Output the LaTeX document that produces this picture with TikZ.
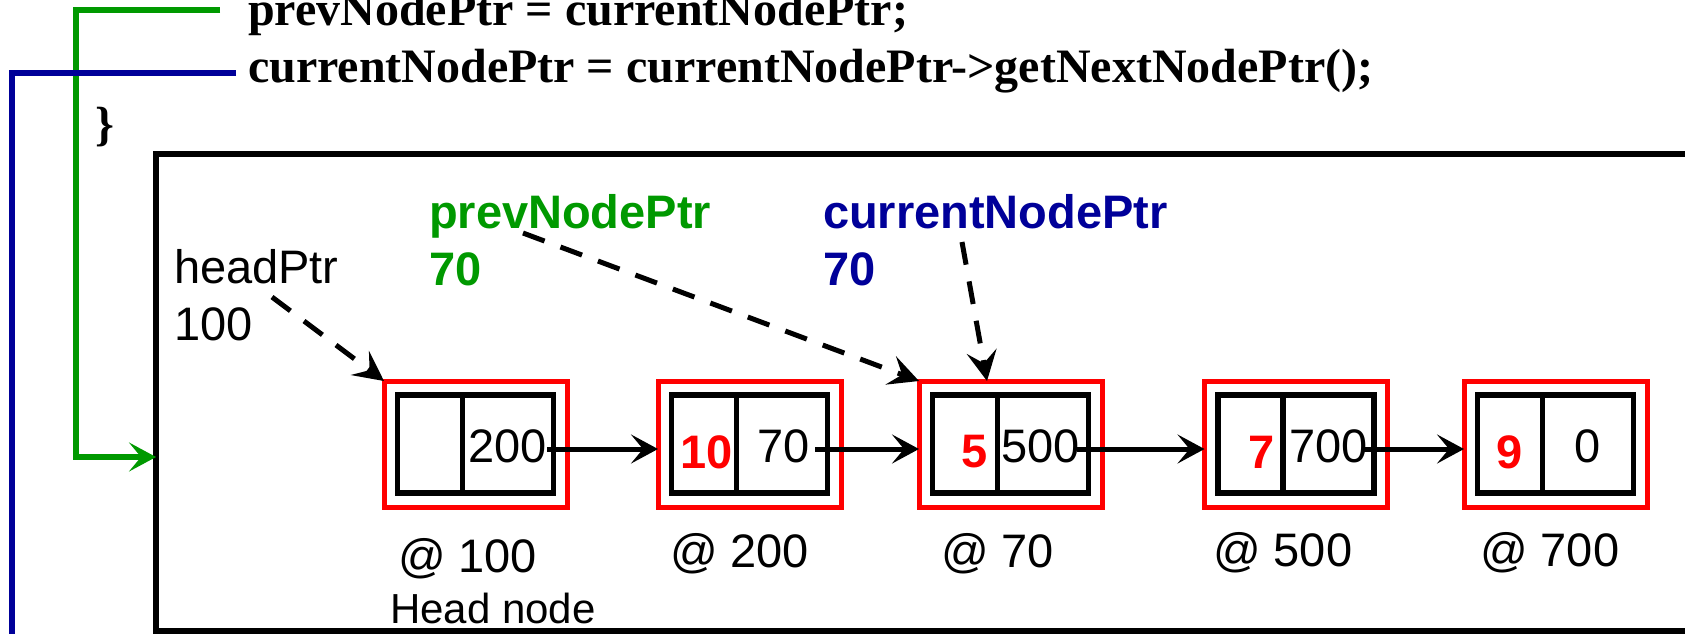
\documentclass[tikz,border=0pt]{standalone}
\usepackage{fontspec}
\setmainfont{Liberation Sans}
\newfontfamily\codefont{Liberation Serif}
\usetikzlibrary{arrows.meta,calc}
\definecolor{dgreen}{HTML}{009900}
\definecolor{dblue}{HTML}{000099}
\tikzset{
  lbl/.style={anchor=base west, inner sep=0pt, outer sep=0pt, font=\fontsize{47pt}{56pt}\selectfont},
  blbl/.style={anchor=base west, inner sep=0pt, outer sep=0pt, font=\fontsize{47pt}{56pt}\selectfont\bfseries},
  smalllbl/.style={anchor=base west, inner sep=0pt, outer sep=0pt, font=\fontsize{42pt}{50pt}\selectfont},
  codeline/.style={anchor=base west, inner sep=0pt, outer sep=0pt, font=\fontsize{48pt}{58pt}\selectfont\codefont\bfseries},
  outerbox/.style={draw=red, line width=5pt, minimum width=183pt, minimum height=126pt, inner sep=0pt, outer sep=0pt},
  lcell/.style={draw=black, line width=5.5pt, minimum width=65pt, minimum height=98pt, inner sep=0pt, outer sep=0pt},
  rcell/.style={draw=black, line width=5.5pt, minimum width=91pt, minimum height=98pt, inner sep=0pt, outer sep=0pt},
  frame/.style={draw=black, line width=6pt, minimum width=1544pt, minimum height=477pt, inner sep=0pt, outer sep=0pt},
  link/.style={line width=5pt, -{Stealth[length=27pt,width=29pt,inset=12pt]}},
  dptr/.style={line width=5pt, dash pattern=on 23pt off 17pt, -{Stealth[length=30pt,width=30pt,inset=12pt]}},
  gline/.style={draw=dgreen, line width=5.5pt, -{Stealth[length=27pt,width=29pt,inset=12pt]}},
  bline/.style={draw=dblue, line width=5.5pt},
}
\newcommand{\lnode}[2]{%
  \node[outerbox] (#1) at (#2,444) {};
  \node[lcell] (#1l) at ({#2-45.5},444) {};
  \node[rcell] (#1r) at ({#2+32.5},444) {};
}
\begin{document}
\begin{tikzpicture}[x=1pt,y=-1pt]
\useasboundingbox (0,0) rectangle (1685,633);

% code
\node[codeline] (l1) at (248,25) {prevNodePtr = currentNodePtr;};
\node[codeline] (l2) at (248,82) {currentNodePtr = currentNodePtr->getNextNodePtr();};
\node[codeline] (br) at (95,140) {\}};

% frame
\node[frame] (frame) at (928,392.5) {};

% list nodes
\lnode{n1}{475.5}
\lnode{n2}{749.5}
\lnode{n3}{1010.5}
\lnode{n4}{1296}
\lnode{n5}{1555.5}

% cell values
\node[lbl] (p1) at (468,462) {200};
\node[blbl, text=red] (v2) at (680,468) {10};
\node[lbl] (p2) at (757,462) {70};
\node[blbl, text=red] (v3) at (961,467) {5};
\node[lbl] (p3) at (1001,462) {500};
\node[blbl, text=red] (v4) at (1248,468) {7};
\node[lbl] (p4) at (1289,462) {700};
\node[blbl, text=red] (v5) at (1496,468) {9};
\node[lbl] (p5) at (1574,462) {0};

% addresses
\node[lbl] (a1) at (398,572) {@ 100};
\node[smalllbl] (hn) at (390,623) {Head node};
\node[lbl] (a2) at (670,567) {@ 200};
\node[lbl] (a3) at (941,567) {@ 70};
\node[lbl] (a4) at (1213,566) {@ 500};
\node[lbl] (a5) at (1480,566) {@ 700};

% pointer labels
\node[lbl] (hp) at (174,283) {headPtr};
\node[lbl] (hpv) at (174,340) {100};
\node[blbl, text=dgreen] (pp) at (429,228) {prevNodePtr};
\node[blbl, text=dgreen] (ppv) at (429,285) {70};
\node[blbl, text=dblue] (cp) at (823,228) {currentNodePtr};
\node[blbl, text=dblue] (cpv) at (823,285) {70};

% links
\coordinate (t1) at (547,449);
\coordinate (t2) at (815,449);
\coordinate (t3) at (1077,449);
\coordinate (t4) at (1362,449);
\draw[link] (t1) -- (t1 -| n2.west);
\draw[link] (t2) -- (t2 -| n3.west);
\draw[link] (t3) -- (t3 -| n4.west);
\draw[link] (t4) -- (t4 -| n5.west);

% dashed pointers
\coordinate (hs) at (272,297);
\coordinate (ps) at (523,233);
\coordinate (cs) at (962,242);
\coordinate (n3p) at ($(n3.north west)+(68,0)$);
\draw[dptr] (hs) -- (n1.north west);
\draw[dptr] (ps) -- (n3.north west);
\draw[dptr] (cs) -- (n3p);

% code connectors
\coordinate (gs) at (220,10);
\coordinate (gc) at (76,457);
\draw[gline] (gs) -| (gc) -- (gc -| frame.west);
\coordinate (bs) at (236,73);
\coordinate (be) at (12,650);
\draw[bline] (bs) -| (be);
\end{tikzpicture}
\end{document}
